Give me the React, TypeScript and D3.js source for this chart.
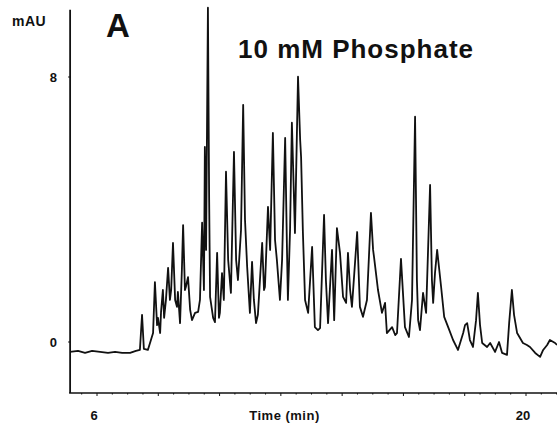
import * as d3 from "d3";
import { useEffect, useRef } from "react";

// retention time (min) and absorbance (mAU)
const times = [
  5.12, 5.38, 5.61, 5.84, 6.1, 6.36, 6.59, 6.82, 7.08, 7.27, 7.4, 7.47, 7.53, 7.66, 7.76, 7.83,
  7.89, 7.96, 7.99, 8.06, 8.09, 8.15, 8.19, 8.25, 8.32, 8.38, 8.42, 8.48, 8.55, 8.61, 8.64, 8.71,
  8.77, 8.81, 8.87, 8.9, 8.97, 9.04, 9.1, 9.2, 9.3, 9.36, 9.43, 9.49, 9.52, 9.56, 9.62, 9.66,
  9.69, 9.79, 9.85, 9.92, 9.98, 10.01, 10.08, 10.14, 10.21, 10.28, 10.37, 10.47, 10.54, 10.6,
  10.7, 10.77, 10.83, 10.9, 10.99, 11.06, 11.12, 11.19, 11.25, 11.39, 11.45, 11.48, 11.58, 11.65,
  11.74, 11.81, 11.87, 11.97, 12.04, 12.14, 12.2, 12.23, 12.3, 12.36, 12.43, 12.46, 12.56, 12.63,
  12.66, 12.72, 12.79, 12.89, 13.02, 13.11, 13.21, 13.28, 13.41, 13.47, 13.54, 13.67, 13.74,
  13.83, 13.93, 14.03, 14.13, 14.19, 14.26, 14.32, 14.49, 14.58, 14.68, 14.81, 14.94, 15.01,
  15.04, 15.17, 15.3, 15.4, 15.46, 15.63, 15.73, 15.79, 15.92, 16.05, 16.18, 16.28, 16.38, 16.44,
  16.48, 16.54, 16.64, 16.74, 16.87, 16.93, 16.97, 17.03, 17.1, 17.23, 17.33, 17.46, 17.62,
  17.78, 17.95, 18.01, 18.08, 18.17, 18.27, 18.37, 18.43, 18.5, 18.57, 18.73, 18.83, 18.99,
  19.12, 19.22, 19.38, 19.45, 19.54, 19.61, 19.71, 19.9, 20.03, 20.13, 20.3, 20.46, 20.56,
  20.69, 20.78, 20.95, 21.01,
];
const absorbance = [
  -0.3, -0.27, -0.33, -0.27, -0.3, -0.33, -0.3, -0.33, -0.33, -0.27, -0.24, 0.82, -0.21, -0.24,
  0.06, 0.27, 1.81, 0.51, 0.73, 0.27, 0.91, 1.57, 0.73, 1.27, 2.24, 1.27, 1.57, 2.99, 1.27, 1.06,
  1.51, 0.57, 2.18, 3.53, 1.57, 1.66, 1.96, 0.97, 0.66, 0.88, 0.91, 1.27, 3.6, 1.57, 5.89, 2.78,
  10.09, 4.29, 1.36, 0.73, 0.6, 2.69, 0.73, 0.88, 2.08, 1.27, 5.14, 2.48, 1.48, 5.74, 2.48, 1.87,
  3.38, 7.16, 3.69, 2.27, 0.88, 2.42, 1.27, 0.57, 0.82, 2.99, 1.57, 1.66, 4.08, 2.78, 6.31, 3.08,
  2.48, 1.27, 2.48, 6.16, 2.78, 1.27, 3.38, 6.62, 4.29, 3.29, 8.01, 6.1, 5.59, 3.29, 1.27, 0.88,
  2.87, 0.45, 0.36, 0.42, 3.84, 1.87, 0.57, 2.78, 0.66, 3.44, 2.69, 1.36, 1.18, 2.69, 1.57, 1.06,
  3.32, 1.06, 0.76, 1.27, 3.9, 2.78, 2.57, 1.57, 0.88, 1.18, 0.27, 0.45, 0.21, 0.27, 2.51, 0.45,
  0.15, 1.27, 6.8, 1.87, 0.66, 0.36, 1.48, 0.88, 4.74, 1.87, 1.18, 2.08, 2.78, 1.66, 0.76, 0.45,
  0.06, -0.24, 0.27, 0.51, 0.57, 0.06, -0.15, 0.66, 1.48, 0.51, -0.03, -0.15, -0.03, -0.3, 0.0,
  -0.33, -0.39, 0.57, 1.57, 0.82, 0.27, -0.03, -0.09, -0.15, -0.33, -0.45, -0.24, -0.09, 0.06,
  -0.03, -0.09,
];
const xTickLabels = [6, 20];
const yTickLabels = [0, 8];

const W = 557;
const H = 428;

export default function App() {
  const ref = useRef<SVGSVGElement>(null);

  useEffect(() => {
    const svg = d3.select(ref.current);
    svg.selectAll("*").remove();

    const x = d3.scaleLinear().domain([6, 20]).range([97, 526]);
    const y = d3.scaleLinear().domain([0, 8]).range([342, 77]);
    const xLeft = x(5.09);
    const xRight = W;
    const yTop = y(10.03);
    const yBottom = y(-1.54);

    const axes = svg.append("g").attr("stroke", "#111").attr("fill", "none");
    axes
      .append("line")
      .attr("x1", xLeft + 1)
      .attr("x2", xLeft + 1)
      .attr("y1", yTop)
      .attr("y2", yBottom)
      .attr("stroke-width", 1.8);
    axes
      .append("line")
      .attr("x1", xLeft)
      .attr("x2", xRight)
      .attr("y1", yBottom)
      .attr("y2", yBottom)
      .attr("stroke-width", 1.6);

    // minor ticks along the time axis
    axes
      .selectAll("line.minor")
      .data(d3.range(5.5, 21.01, 0.5))
      .join("line")
      .attr("class", "minor")
      .attr("x1", (d) => x(d))
      .attr("x2", (d) => x(d))
      .attr("y1", yBottom)
      .attr("y2", (d) => yBottom + (d % 2 === 0 ? 3 : 1.5))
      .attr("stroke-width", 1);

    axes
      .selectAll("line.ytick")
      .data(yTickLabels)
      .join("line")
      .attr("class", "ytick")
      .attr("x1", xLeft - 1)
      .attr("x2", xLeft + 1)
      .attr("y1", (d) => y(d))
      .attr("y2", (d) => y(d))
      .attr("stroke-width", 1);

    const line = d3
      .line<number>()
      .x((_, i) => x(times[i]))
      .y((d) => y(d));

    svg
      .append("path")
      .datum(absorbance)
      .attr("d", line)
      .attr("fill", "none")
      .attr("stroke", "#111")
      .attr("stroke-width", 1.8)
      .attr("stroke-linejoin", "round");

    const font = "Liberation Sans, Arial, sans-serif";

    svg
      .selectAll("text.ylab")
      .data(yTickLabels)
      .join("text")
      .attr("class", "ylab")
      .attr("x", 57)
      .attr("y", (d) => y(d) + 5)
      .attr("text-anchor", "end")
      .attr("font-family", font)
      .attr("font-weight", "bold")
      .attr("font-size", 13)
      .attr("fill", "#111")
      .text((d) => d);

    svg
      .selectAll("text.xlab")
      .data(xTickLabels)
      .join("text")
      .attr("class", "xlab")
      .attr("x", (d) => x(d) - 3)
      .attr("y", 420)
      .attr("text-anchor", "middle")
      .attr("font-family", font)
      .attr("font-weight", "bold")
      .attr("font-size", 13)
      .attr("fill", "#111")
      .text((d) => d);

    svg
      .append("text")
      .attr("x", (x(11) + x(13.5)) / 2 - 4)
      .attr("y", 420)
      .attr("text-anchor", "middle")
      .attr("font-family", font)
      .attr("font-weight", "bold")
      .attr("font-size", 13)
      .attr("letter-spacing", 0.5)
      .attr("fill", "#111")
      .text("Time (min)");

    svg
      .append("text")
      .attr("x", 12)
      .attr("y", 26)
      .attr("font-family", font)
      .attr("font-weight", "bold")
      .attr("font-size", 14)
      .attr("letter-spacing", 0.5)
      .attr("fill", "#111")
      .text("mAU");

    svg
      .append("text")
      .attr("x", 106)
      .attr("y", 37)
      .attr("font-family", font)
      .attr("font-weight", "bold")
      .attr("font-size", 33)
      .attr("fill", "#111")
      .text("A");

    svg
      .append("text")
      .attr("x", 238)
      .attr("y", 58)
      .attr("font-family", font)
      .attr("font-weight", "bold")
      .attr("font-size", 26)
      .attr("letter-spacing", 1)
      .attr("fill", "#111")
      .text("10 mM Phosphate");
  }, []);

  return (
    <svg
      ref={ref}
      width={W}
      height={H}
      style={{ position: "absolute", left: 0, top: 0, background: "#fff" }}
    />
  );
}
